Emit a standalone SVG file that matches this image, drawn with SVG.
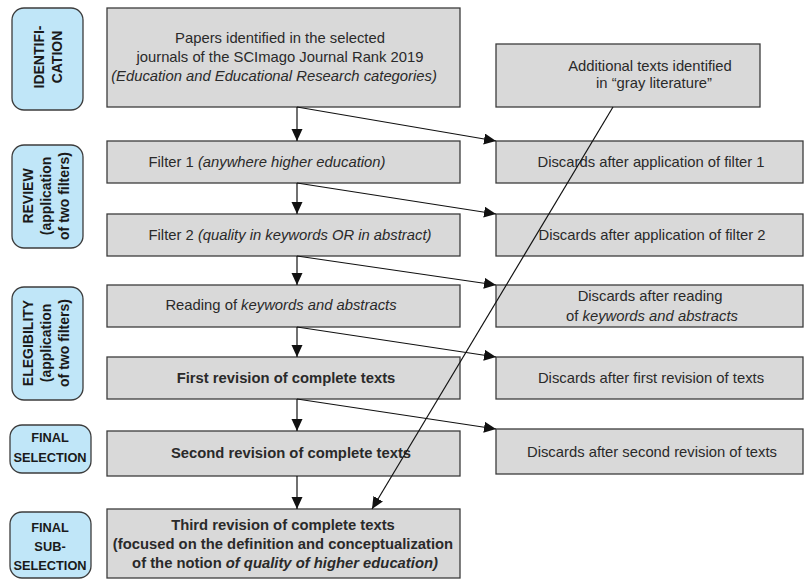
<svg xmlns="http://www.w3.org/2000/svg" width="805" height="580" viewBox="0 0 805 580">
<style>
.box{fill:#d9d9d9;stroke:#3c3c3c;stroke-width:1.3}
.lab{fill:#c0e6f8;stroke:#3c3c3c;stroke-width:1.3}
.t{font-family:"Liberation Sans",Arial,sans-serif;font-size:14.8px;fill:#2a2a2a;text-anchor:middle}
.b{font-weight:bold}
.i{font-style:italic}
.l{font-family:"Liberation Sans",Arial,sans-serif;font-size:14px;font-weight:bold;fill:#1a1a1a;text-anchor:middle}
.c{stroke:#111;stroke-width:1.2;fill:none;marker-end:url(#ah)}
</style>
<defs>
<marker id="ah" markerUnits="userSpaceOnUse" markerWidth="12" markerHeight="12" refX="12" refY="5.5" orient="auto">
<path d="M0,0 L12,5.5 L0,11 z" fill="#111"/>
</marker>
</defs>
<rect width="805" height="580" fill="#fff"/>

<g id="lab-identification">
<rect class="lab" x="12" y="8" width="71" height="102" rx="12"/>
<text class="l" transform="translate(47,57) rotate(-90)"><tspan x="0" y="-3">IDENTIFI-</tspan><tspan x="0" y="15">CATION</tspan></text>
</g>
<g id="lab-review">
<rect class="lab" x="12" y="145" width="71" height="103" rx="12"/>
<text class="l" transform="translate(47,196) rotate(-90)"><tspan x="0" y="-14">REVIEW</tspan><tspan x="0" y="4">(application</tspan><tspan x="0" y="22">of two filters)</tspan></text>
</g>
<g id="lab-elegibility">
<rect class="lab" x="12" y="287" width="71" height="113" rx="12"/>
<text class="l" transform="translate(47,343) rotate(-90)"><tspan x="0" y="-14">ELEGIBILITY</tspan><tspan x="0" y="4">(application</tspan><tspan x="0" y="22">of two filters)</tspan></text>
</g>
<g id="lab-final-selection">
<rect class="lab" x="10" y="425" width="81" height="48" rx="12"/>
<text class="l" style="font-size:12.8px"><tspan x="50" y="442">FINAL</tspan><tspan x="50" y="462">SELECTION</tspan></text>
</g>
<g id="lab-final-subselection">
<rect class="lab" x="10" y="512" width="81" height="66" rx="12"/>
<text class="l" style="font-size:12.8px"><tspan x="50" y="532">FINAL</tspan><tspan x="50" y="551">SUB-</tspan><tspan x="50" y="570">SELECTION</tspan></text>
</g>

<g id="n-papers">
<rect class="box" x="107" y="8" width="353" height="99"/>
<text class="t"><tspan x="280" y="43">Papers identified in the selected</tspan><tspan x="280" y="62">journals of the SCImago Journal Rank 2019</tspan><tspan x="274" y="81" class="i">(Education and Educational Research categories)</tspan></text>
</g>
<g id="n-gray">
<rect class="box" x="496" y="44" width="264" height="63"/>
<text class="t"><tspan x="650" y="71">Additional texts identified</tspan><tspan x="654" y="88">in “gray literature”</tspan></text>
</g>
<g id="n-filter1">
<rect class="box" x="107" y="141" width="353" height="42"/>
<text class="t" x="267" y="167">Filter 1 <tspan class="i">(anywhere higher education)</tspan></text>
</g>
<g id="n-discard1">
<rect class="box" x="496" y="141" width="307" height="42"/>
<text class="t" x="651" y="167">Discards after application of filter 1</text>
</g>
<g id="n-filter2">
<rect class="box" x="107" y="214" width="353" height="42"/>
<text class="t" x="290" y="240">Filter 2 <tspan class="i">(quality in keywords OR in abstract)</tspan></text>
</g>
<g id="n-discard2">
<rect class="box" x="496" y="214" width="307" height="42"/>
<text class="t" x="652" y="240">Discards after application of filter 2</text>
</g>
<g id="n-reading">
<rect class="box" x="107" y="285" width="353" height="42"/>
<text class="t" x="281" y="310">Reading of <tspan class="i">keywords and abstracts</tspan></text>
</g>
<g id="n-discard3">
<rect class="box" x="496" y="285" width="307" height="42"/>
<text class="t"><tspan x="650" y="301">Discards after reading</tspan><tspan x="652" y="321">of <tspan class="i">keywords and abstracts</tspan></tspan></text>
</g>
<g id="n-first">
<rect class="box" x="107" y="357" width="353" height="42"/>
<text class="t b" x="286" y="383">First revision of complete texts</text>
</g>
<g id="n-discard4">
<rect class="box" x="496" y="357" width="307" height="42"/>
<text class="t" x="651" y="383">Discards after first revision of texts</text>
</g>
<g id="n-second">
<rect class="box" x="107" y="431" width="353" height="45"/>
<text class="t b" x="291" y="458">Second revision of complete texts</text>
</g>
<g id="n-discard5">
<rect class="box" x="496" y="429" width="307" height="45"/>
<text class="t" x="652" y="457">Discards after second revision of texts</text>
</g>
<g id="n-third">
<rect class="box" x="107" y="509" width="353" height="69"/>
<text class="t b"><tspan x="283" y="530">Third revision of complete texts</tspan><tspan x="283" y="549">(focused on the definition and conceptualization</tspan><tspan x="285" y="568">of the notion <tspan class="i">of quality of higher education)</tspan></tspan></text>
</g>

<g id="connectors">
<line class="c" x1="297" y1="107" x2="297" y2="141"/>
<line class="c" x1="297" y1="183" x2="297" y2="214"/>
<line class="c" x1="297" y1="256" x2="297" y2="285"/>
<line class="c" x1="297" y1="327" x2="297" y2="357"/>
<line class="c" x1="297" y1="399" x2="297" y2="431"/>
<line class="c" x1="297" y1="476" x2="297" y2="509"/>
<line class="c" x1="297" y1="107" x2="496" y2="141"/>
<line class="c" x1="297" y1="183" x2="496" y2="214"/>
<line class="c" x1="297" y1="256" x2="496" y2="285"/>
<line class="c" x1="297" y1="327" x2="496" y2="357"/>
<line class="c" x1="297" y1="399" x2="496" y2="429"/>
<line class="c" x1="613" y1="107" x2="372" y2="509"/>
</g>
</svg>
